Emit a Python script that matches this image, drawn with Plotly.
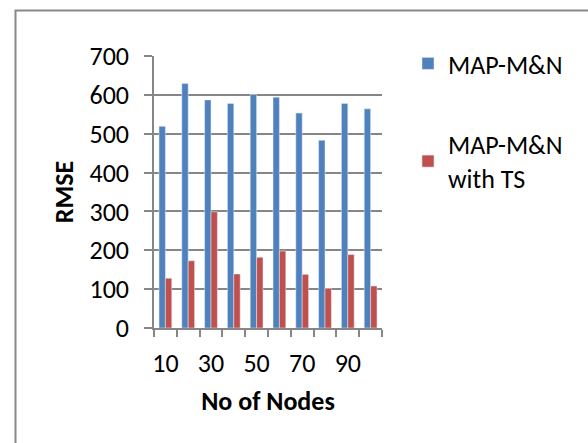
import plotly.graph_objects as go

nodes = ["10", "20", "30", "40", "50", "60", "70", "80", "90", "100"]
tick_text = ["10", "", "30", "", "50", "", "70", "", "90", ""]
map_mn = [519, 629, 587, 578, 601, 594, 553, 483, 578, 564]
map_mn_ts = [128, 173, 299, 139, 182, 198, 138, 102, 189, 108]

FONT = "Carlito, Lato, sans-serif"
FS = 26

fig = go.Figure()
fig.add_trace(go.Bar(x=nodes, y=map_mn, name="MAP-M&N", marker_color="#4F81BD",
                     legendgroup="a"))
fig.add_trace(go.Bar(x=nodes, y=map_mn_ts, name="MAP-M&N<br>with TS", marker_color="#C0504D",
                     legendgroup="b"))

L, R, T, B = 154, 382, 56, 328
W, H = 588, 443
pw, ph = R - L, B - T

def px(x):
    return (x - L) / pw

def py(y):
    return (B - y) / ph

fig.update_layout(
    width=W, height=H,
    margin=dict(l=L, r=W - R, t=T, b=H - B),
    plot_bgcolor="white", paper_bgcolor="white",
    font=dict(family=FONT, size=FS, color="black"),
    barmode="group", bargap=0.44, bargroupgap=0,
    showlegend=True,
    legend=dict(x=px(408), y=py(40), xanchor="left", yanchor="top",
                font=dict(size=FS, family=FONT), tracegroupgap=44,
                itemwidth=30, bgcolor="rgba(0,0,0,0)"),
    xaxis=dict(type="category", tickmode="array", tickvals=nodes, ticktext=tick_text,
               tickson="boundaries", ticks="outside", ticklen=7, tickcolor="#868686",
               tickwidth=1.5,
               showline=True, linecolor="#868686", linewidth=1.5,
               showgrid=False, tickangle=0, ticklabelstandoff=11,
               tickfont=dict(size=FS),
               title=dict(text="<b>No of Nodes</b>", font=dict(size=FS), standoff=14)),
    yaxis=dict(range=[0, 700], dtick=100, ticks="outside", ticklen=8, tickcolor="#868686",
               tickwidth=1.5,
               showline=True, linecolor="#868686", linewidth=1.5,
               showgrid=True, gridcolor="#868686", gridwidth=1.5,
               zeroline=False, ticklabelstandoff=10,
               tickfont=dict(size=FS),
               title=dict(text="<b>RMSE</b>", font=dict(size=FS), standoff=8)),
    shapes=[dict(type="rect", xref="paper", yref="paper",
                 x0=px(15.5), x1=px(600), y0=py(460), y1=py(10.5),
                 line=dict(color="#888888", width=2), fillcolor="rgba(0,0,0,0)", layer="below")],
)

fig.write_html("out.html", config={"displayModeBar": False},
               post_script="document.body.style.margin='0';document.body.style.overflow='hidden';")
